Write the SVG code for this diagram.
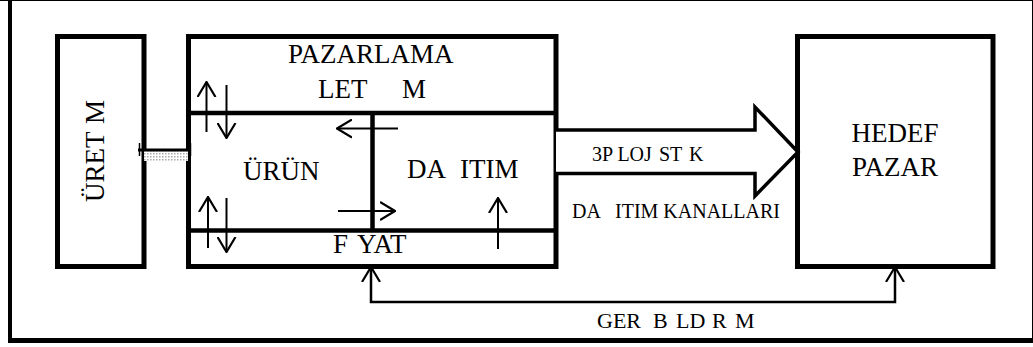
<svg xmlns="http://www.w3.org/2000/svg" width="1033" height="347" viewBox="0 0 1033 347">
<style>
.box{fill:none;stroke:#000;stroke-width:5}
.div{stroke:#000;stroke-width:4.5;fill:none}
.frame{stroke:#000;fill:none}
.arr{stroke:#000;stroke-width:2;fill:none;marker-end:url(#ah)}
.fb{stroke:#000;stroke-width:2.5;fill:none;marker-start:url(#ah);marker-end:url(#ah)}
.big{fill:#fff;stroke:#000;stroke-width:3.5;stroke-linejoin:miter}
.L{font-family:'Liberation Serif',serif;font-size:27px;fill:#000}
.S{font-family:'Liberation Serif',serif;font-size:20px;fill:#000}
.G{font-family:'Liberation Serif',serif;font-size:22px;fill:#000}
</style>
<defs>
<marker id="ah" viewBox="0 0 16 20" refX="15" refY="10" markerWidth="16" markerHeight="20" markerUnits="userSpaceOnUse" orient="auto-start-reverse">
<path d="M0,1 L15,10 L0,19" fill="none" stroke="#000" stroke-width="2.2"/>
</marker>
<pattern id="dots" width="3" height="3" patternUnits="userSpaceOnUse">
<rect width="3" height="3" fill="#fff"/>
<rect width="1.5" height="1.5" fill="#aaa"/>
</pattern>
</defs>
<g id="frame">
<line class="frame" x1="0" y1="0.5" x2="1033" y2="0.5" stroke-width="1"/>
<line class="frame" x1="10" y1="0" x2="10" y2="343" stroke-width="4"/>
<line class="frame" x1="8" y1="340.5" x2="1033" y2="340.5" stroke-width="5"/>
<line class="frame" x1="1032.5" y1="0" x2="1032.5" y2="343" stroke-width="1"/>
</g>
<g id="uretim">
<rect class="box" x="57.5" y="36.5" width="86.5" height="230"/>
<text class="L" style="font-family:'Liberation Serif',serif" transform="translate(104,0) rotate(-90)"><tspan x="-202" y="0">ÜRET</tspan><tspan x="-124" y="0">M</tspan></text>
</g>
<g id="pazarlama">
<rect class="box" x="188.5" y="36.5" width="367.5" height="230"/>
<line class="div" x1="188.5" y1="113" x2="556" y2="113"/>
<line class="div" x1="188.5" y1="230.5" x2="556" y2="230.5"/>
<line class="div" x1="372.5" y1="113" x2="372.5" y2="230.5"/>
<text class="L" style="font-family:'Liberation Serif',serif" x="288" y="63">PAZARLAMA</text>
<text class="L" style="font-family:'Liberation Serif',serif" y="98"><tspan x="318">LET</tspan><tspan x="402">M</tspan></text>
</g>
<g id="urun">
<text class="L" style="font-family:'Liberation Serif',serif" x="243" y="180">ÜRÜN</text>
</g>
<g id="dagitim">
<text class="L" style="font-family:'Liberation Serif',serif" y="178"><tspan x="407">DA</tspan><tspan x="460">ITIM</tspan></text>
</g>
<g id="fiyat">
<text class="L" style="font-family:'Liberation Serif',serif" y="253"><tspan x="333">F</tspan><tspan x="357">YAT</tspan></text>
</g>
<g id="hedef">
<rect class="box" x="797.5" y="36.5" width="195.5" height="230"/>
<text class="L" style="font-family:'Liberation Serif',serif" x="895" y="141.5" text-anchor="middle">HEDEF</text>
<text class="L" style="font-family:'Liberation Serif',serif" x="895" y="176" text-anchor="middle">PAZAR</text>
</g>
<g id="connectors">
<rect x="144" y="151" width="44" height="10" fill="url(#dots)"/>
<line x1="138" y1="150" x2="190" y2="150" stroke="#000" stroke-width="3"/>
<line x1="139.5" y1="143" x2="139.5" y2="156" stroke="#000" stroke-width="1.5"/>
<line x1="190.5" y1="143" x2="190.5" y2="156" stroke="#000" stroke-width="1.5"/>
<path class="arr" d="M206.5,132 L206.5,82"/>
<path class="arr" d="M226.5,85 L226.5,138"/>
<path class="arr" d="M208,248 L208,197"/>
<path class="arr" d="M226.5,198 L226.5,252"/>
<path class="arr" d="M398,128.5 L337,128.5"/>
<path class="arr" d="M338,211 L395,211"/>
<path class="arr" d="M498,249 L498,198"/>
<path class="big" d="M556,130 L755,130 L755,107 L798,152 L755,196 L755,173.5 L556,173.5"/>
<path class="fb" d="M371,267 L371,302 L895,302 L895,267"/>
<text class="S" style="font-family:'Liberation Serif',serif" y="161"><tspan x="592">3P LOJ</tspan><tspan x="659">ST</tspan><tspan x="689">K</tspan></text>
<text class="S" style="font-family:'Liberation Serif',serif" y="218"><tspan x="572">DA</tspan><tspan x="615">ITIM KANALLARI</tspan></text>
<text class="G" style="font-family:'Liberation Serif',serif" y="328"><tspan x="597">GER</tspan><tspan x="653">B</tspan><tspan x="676">LD</tspan><tspan x="712">R</tspan><tspan x="735">M</tspan></text>
</g>
</svg>
